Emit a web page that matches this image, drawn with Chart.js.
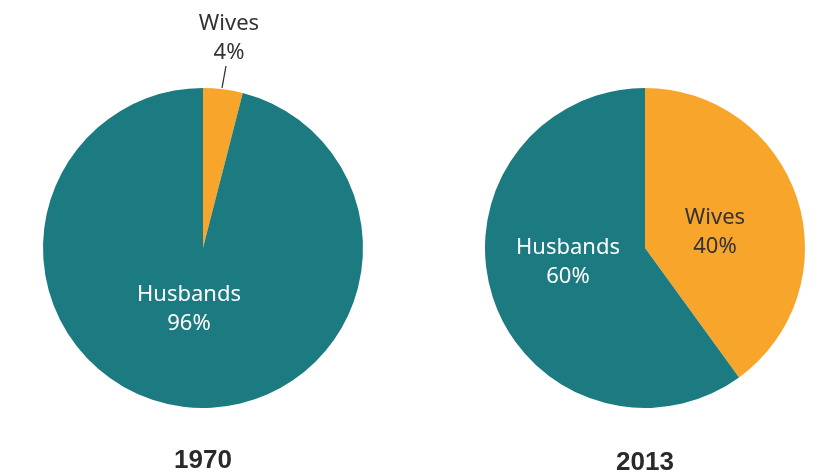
<!DOCTYPE html>
<html lang="en">
<head>
    <meta charset="UTF-8">
    <title>Household income earners, 1970 and 2013</title>
    <script src="https://cdn.jsdelivr.net/npm/chart.js@4"></script>
    <style>
        html, body { margin: 0; padding: 0; background: #fff; }
        .stage { position: relative; width: 814px; height: 474px; overflow: hidden; }
        .pie { position: absolute; top: 0; }
        #pie1970 { left: 0; }
        #pie2013 { left: 465px; }
    </style>
</head>
<body>
    <div class="stage">
        <div class="pie" id="pie1970" style="width:406px;height:474px"><canvas id="c1970"></canvas></div>
        <div class="pie" id="pie2013" style="width:349px;height:474px"><canvas id="c2013"></canvas></div>
    </div>

    <script>
        // data
        var categories = ['Wives', 'Husbands'];
        var shares1970 = [4, 96];
        var shares2013 = [40, 60];
        var years = ['1970', '2013'];
        var sliceColors = ['#F7A52B', '#1C7A81'];

        var labelFont = '22px "Noto Sans", "Open Sans", sans-serif';
        var yearFont = 'bold 26px "Liberation Sans", Arial, sans-serif';

        // draws "Category / NN%" inside (or beside) each slice, plus the year under the pie
        var sliceLabels = {
            id: 'sliceLabels',
            afterDatasetsDraw: function (chart, args, opts) {
                var ctx = chart.ctx;
                var arcs = chart.getDatasetMeta(0).data;
                var values = chart.data.datasets[0].data;
                var cx = arcs[0].x, cy = arcs[0].y;
                ctx.save();
                ctx.font = labelFont;
                ctx.textAlign = 'center';
                ctx.textBaseline = 'middle';
                opts.spots.forEach(function (s, i) {
                    var x = cx + s.dx, y = cy + s.dy;
                    ctx.fillStyle = s.color;
                    ctx.fillText(chart.data.labels[i], x, y - 14.5);
                    ctx.fillText(values[i] + '%', x, y + 14.5);
                    if (s.leader) {
                        ctx.strokeStyle = '#333';
                        ctx.lineWidth = 1.3;
                        ctx.beginPath();
                        ctx.moveTo(cx + s.leader[0], cy + s.leader[1]);
                        ctx.lineTo(cx + s.leader[2], cy + s.leader[3]);
                        ctx.stroke();
                    }
                });
                ctx.font = yearFont;
                ctx.fillStyle = '#2a2a2a';
                ctx.fillText(opts.year, cx, cy + opts.yearDy);
                ctx.restore();
            }
        };

        function makePie(id, values, year, padding, spots, yearDy) {
            return new Chart(document.getElementById(id), {
                type: 'pie',
                data: {
                    labels: categories,
                    datasets: [{
                        data: values,
                        backgroundColor: sliceColors,
                        borderWidth: 0
                    }]
                },
                options: {
                    responsive: true,
                    maintainAspectRatio: false,
                    animation: false,
                    layout: { padding: padding },
                    plugins: {
                        legend: { display: false },
                        tooltip: { enabled: false },
                        sliceLabels: { spots: spots, year: year, yearDy: yearDy }
                    }
                },
                plugins: [sliceLabels]
            });
        }

        makePie('c1970', shares1970, years[0],
            { left: 43, right: 43, top: 88, bottom: 66 },
            [
                { dx: 26, dy: -210, color: '#333', leader: [23, -182, 19, -160] },
                { dx: -14, dy: 61, color: '#fff' }
            ], 213);

        makePie('c2013', shares2013, years[1],
            { left: 20, right: 9, top: 88, bottom: 66 },
            [
                { dx: 70, dy: -16, color: '#333' },
                { dx: -77, dy: 14, color: '#fff' }
            ], 215);
    </script>
</body>
</html>
